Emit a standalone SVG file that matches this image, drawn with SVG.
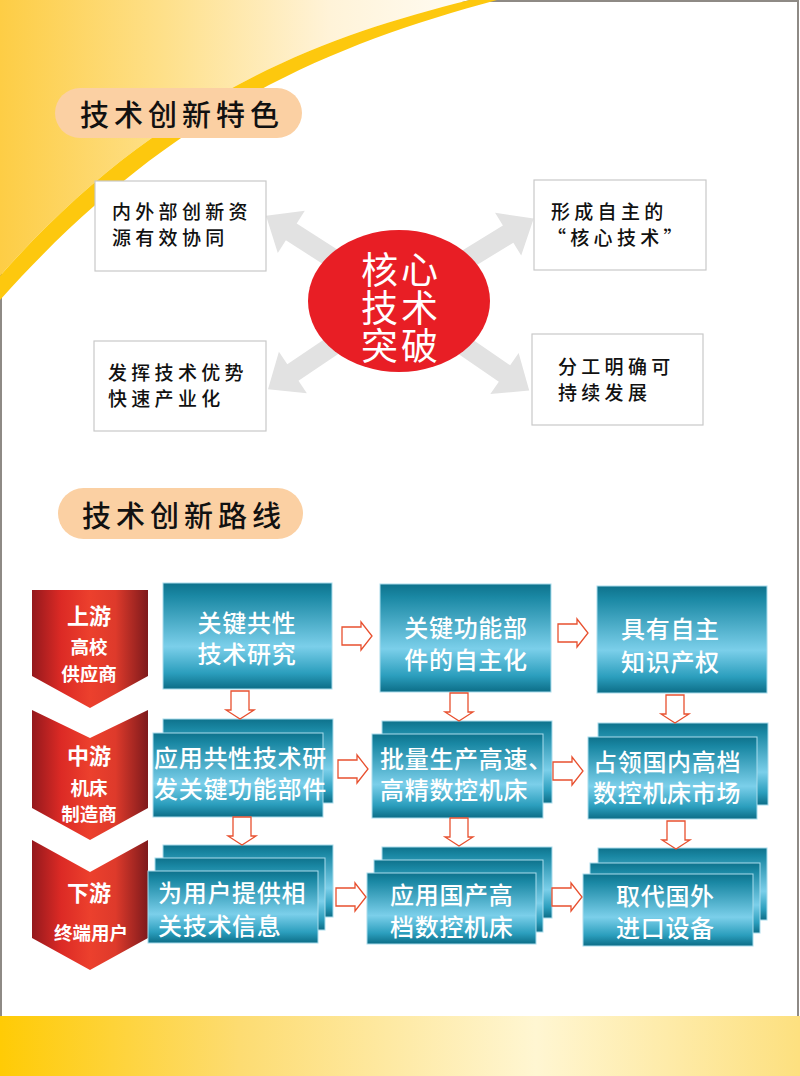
<svg xmlns="http://www.w3.org/2000/svg" xmlns:xlink="http://www.w3.org/1999/xlink" width="800" height="1076" viewBox="0 0 800 1076">
<defs>
<linearGradient id="swfill" x1="0" y1="0" x2="1" y2="0">
<stop offset="0" stop-color="#FDCD45"/>
<stop offset="0.35" stop-color="#FEE08A"/>
<stop offset="0.7" stop-color="#FFF3D8"/>
<stop offset="1" stop-color="#FFFCF4"/>
</linearGradient>
<linearGradient id="bottomband" x1="0" y1="0" x2="1" y2="0">
<stop offset="0" stop-color="#FFCB05"/>
<stop offset="0.3" stop-color="#FDDC72"/>
<stop offset="0.67" stop-color="#FFF6D2"/>
<stop offset="1" stop-color="#FDE07F"/>
</linearGradient>
<linearGradient id="blue" x1="0" y1="0" x2="0" y2="1">
<stop offset="0" stop-color="#0E728C"/>
<stop offset="0.12" stop-color="#1A88A4"/>
<stop offset="0.6" stop-color="#7BCFEA"/>
<stop offset="0.85" stop-color="#2B9EBD"/>
<stop offset="1" stop-color="#0C6D87"/>
</linearGradient>
<linearGradient id="red" x1="0" y1="0" x2="1" y2="0">
<stop offset="0" stop-color="#94191D"/>
<stop offset="0.25" stop-color="#DC2A25"/>
<stop offset="0.5" stop-color="#EC402D"/>
<stop offset="0.72" stop-color="#DE3A2B"/>
<stop offset="1" stop-color="#7E1A1C"/>
</linearGradient>
<path id="ra" d="M0,-9 H19 V-14 L30,0 L19,14 V9 H0 Z"/>
<path id="da" d="M-9,0 V19 H-14 L0,28 L14,19 H9 V0 Z"/>
<path id="garrow" d="M0,-10 H128 V-25 L158,0 L128,25 V10 H0 Z"/>
<style>
.cjk{font-family:"Noto Sans CJK SC","Noto Sans CJK JP",sans-serif;}
.head{font-size:29px;fill:#111;letter-spacing:5px;font-weight:500;}
.feat{fill:#fff;stroke:#c9c9c9;stroke-width:1.2;}
.ft{font-size:19px;fill:#111;letter-spacing:4.3px;font-weight:500;}
.core{font-size:37px;fill:#fff;letter-spacing:3px;text-anchor:middle;}
.bbox{fill:url(#blue);stroke:#a9dcec;stroke-width:1;}
.bt{font-size:24px;fill:#fff;letter-spacing:0.7px;font-weight:500;}
.chev{fill:url(#red);}
.ct1{font-size:22px;fill:#fff;font-weight:bold;text-anchor:middle;}
.ct2{font-size:18.5px;fill:#fff;font-weight:bold;text-anchor:middle;}
.oa{fill:#fff;stroke:#E8502F;stroke-width:1.3;}
.ga{fill:#E2E2E2;}
</style>
</defs>

<rect x="0" y="0" width="800" height="1076" fill="#fff"/>
<rect x="1" y="1" width="797" height="1074" fill="none" stroke="#8E8A85" stroke-width="2"/>

<!-- top swoosh -->
<path d="M0,0 H470 C315,38 155,100 0,276 Z" fill="url(#swfill)"/>
<path d="M470,0 L497,0 C330,45 170,110 0,300 L0,276 C155,100 315,38 470,0 Z" fill="#FDC80E"/>

<!-- bottom band -->
<rect x="0" y="1016" width="800" height="60" fill="url(#bottomband)"/>

<!-- heading 1 -->
<g id="heading1">
<rect x="55" y="88" width="247" height="50" rx="25" fill="#FBD0A3"/>
<text class="cjk head" x="80" y="126">技术创新特色</text>
</g>

<!-- gray arrows -->
<g id="core-connectors">
<use xlink:href="#garrow" class="ga" transform="translate(399,301) rotate(212.7)"/>
<use xlink:href="#garrow" class="ga" transform="translate(399,301) rotate(-31.5)"/>
<use xlink:href="#garrow" class="ga" transform="translate(399,301) rotate(146)"/>
<use xlink:href="#garrow" class="ga" transform="translate(399,301) rotate(34.5)"/>
</g>

<g id="feat1">
<rect class="feat" x="95" y="181" width="171" height="90"/>
<text class="cjk ft" x="112" y="219">内外部创新资</text>
<text class="cjk ft" x="112" y="245">源有效协同</text>
</g>
<g id="feat2">
<rect class="feat" x="534" y="180" width="172" height="90"/>
<text class="cjk ft" x="551" y="219">形成自主的</text>
<text class="cjk ft" x="547" y="245">“核心技术”</text>
</g>
<g id="feat3">
<rect class="feat" x="94" y="341" width="172" height="90"/>
<text class="cjk ft" x="108" y="380">发挥技术优势</text>
<text class="cjk ft" x="108" y="406">快速产业化</text>
</g>
<g id="feat4">
<rect class="feat" x="532" y="334" width="171" height="91"/>
<text class="cjk ft" x="558" y="374">分工明确可</text>
<text class="cjk ft" x="558" y="400">持续发展</text>
</g>

<g id="core">
<ellipse cx="399" cy="301" rx="91" ry="71" fill="#E81E25"/>
<text class="cjk core" x="401" y="284">核心</text>
<text class="cjk core" x="401" y="322">技术</text>
<text class="cjk core" x="401" y="360">突破</text>
</g>

<!-- heading 2 -->
<g id="heading2">
<rect x="58" y="488" width="245" height="51" rx="25.5" fill="#FBD0A3"/>
<text class="cjk head" x="82" y="527">技术创新路线</text>
</g>

<!-- chevrons -->
<g id="upstream">
<path class="chev" d="M32,590 L148,590 L148,676 L90,708 L32,676 Z"/>
<text class="cjk ct1" x="89" y="624">上游</text>
<text class="cjk ct2" x="89" y="654">高校</text>
<text class="cjk ct2" x="89" y="681">供应商</text>
</g>
<g id="midstream">
<path class="chev" d="M32,710 L90,738 L148,710 L148,808 L90,840 L32,808 Z"/>
<text class="cjk ct1" x="89" y="764">中游</text>
<text class="cjk ct2" x="89" y="795">机床</text>
<text class="cjk ct2" x="89" y="821">制造商</text>
</g>
<g id="downstream">
<path class="chev" d="M32,840 L90,872 L148,840 L148,938 L90,970 L32,938 Z"/>
<text class="cjk ct1" x="89" y="901">下游</text>
<text class="cjk ct2" x="91" y="940">终端用户</text>
</g>

<!-- row 1 -->
<g id="b1">
<rect class="bbox" x="163" y="583" width="169" height="106"/>
<text class="cjk bt" x="247" y="632" text-anchor="middle">关键共性</text>
<text class="cjk bt" x="247" y="663" text-anchor="middle">技术研究</text>
</g>
<g id="b2">
<rect class="bbox" x="380" y="584" width="171" height="108"/>
<text class="cjk bt" x="466" y="637" text-anchor="middle">关键功能部</text>
<text class="cjk bt" x="466" y="669" text-anchor="middle">件的自主化</text>
</g>
<g id="b3">
<rect class="bbox" x="597" y="586" width="170" height="107"/>
<text class="cjk bt" x="621" y="638">具有自主</text>
<text class="cjk bt" x="621" y="671">知识产权</text>
</g>

<!-- row 2 -->
<g id="b4">
<rect class="bbox" x="163" y="719" width="170" height="84"/>
<rect class="bbox" x="153" y="733" width="170" height="84"/>
<text class="cjk bt" x="154" y="767">应用共性技术研</text>
<text class="cjk bt" x="154" y="798">发关键功能部件</text>
</g>
<g id="b5">
<rect class="bbox" x="382" y="721" width="170" height="82"/>
<rect class="bbox" x="372" y="734" width="171" height="84"/>
<text class="cjk bt" x="380" y="768">批量生产高速、</text>
<text class="cjk bt" x="380" y="799">高精数控机床</text>
</g>
<g id="b6">
<rect class="bbox" x="598" y="723" width="170" height="82"/>
<rect class="bbox" x="588" y="737" width="169" height="82"/>
<text class="cjk bt" x="593" y="771">占领国内高档</text>
<text class="cjk bt" x="593" y="802">数控机床市场</text>
</g>

<!-- row 3 -->
<g id="b7">
<rect class="bbox" x="163" y="845" width="170" height="72"/>
<rect class="bbox" x="155" y="858" width="170" height="72"/>
<rect class="bbox" x="148" y="871" width="170" height="72"/>
<text class="cjk bt" x="158" y="902">为用户提供相</text>
<text class="cjk bt" x="158" y="935">关技术信息</text>
</g>
<g id="b8">
<rect class="bbox" x="382" y="847" width="170" height="71"/>
<rect class="bbox" x="374" y="860" width="169" height="72"/>
<rect class="bbox" x="367" y="873" width="169" height="71"/>
<text class="cjk bt" x="390" y="904">应用国产高</text>
<text class="cjk bt" x="390" y="936">档数控机床</text>
</g>
<g id="b9">
<rect class="bbox" x="598" y="848" width="169" height="72"/>
<rect class="bbox" x="590" y="863" width="170" height="70"/>
<rect class="bbox" x="583" y="874" width="170" height="72"/>
<text class="cjk bt" x="616" y="905">取代国外</text>
<text class="cjk bt" x="616" y="937">进口设备</text>
</g>

<!-- orange connectors -->
<g id="route-connectors">
<use xlink:href="#ra" class="oa" x="342" y="636"/>
<use xlink:href="#ra" class="oa" x="558" y="633"/>
<use xlink:href="#ra" class="oa" x="338" y="769"/>
<use xlink:href="#ra" class="oa" x="553" y="771"/>
<use xlink:href="#ra" class="oa" x="336" y="897"/>
<use xlink:href="#ra" class="oa" x="552" y="897"/>
<use xlink:href="#da" class="oa" x="240" y="691"/>
<use xlink:href="#da" class="oa" x="459" y="693"/>
<use xlink:href="#da" class="oa" x="675" y="695"/>
<use xlink:href="#da" class="oa" x="242" y="817"/>
<use xlink:href="#da" class="oa" x="459" y="818"/>
<use xlink:href="#da" class="oa" x="676" y="821"/>
</g>
</svg>
